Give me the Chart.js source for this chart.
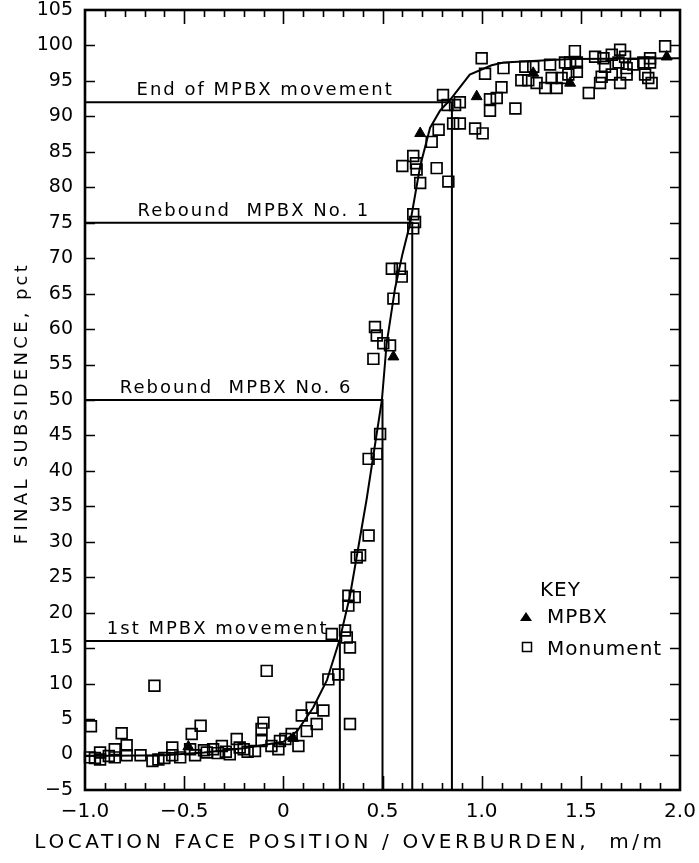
<!DOCTYPE html>
<html>
<head>
<meta charset="utf-8">
<title>Final subsidence vs face position</title>
<script src="https://cdn.jsdelivr.net/npm/chart.js@4.4.1/dist/chart.umd.min.js"></script>
<style>
  html, body { margin: 0; padding: 0; background: #fff; }
  #wrap { width: 699px; height: 863px; }
</style>
</head>
<body>
<div id="wrap"><canvas id="chart" width="699" height="863"></canvas></div>
<script>
// -----------------------------------------------------------------------------
// Data (x = face position / overburden, y = pct)
// -----------------------------------------------------------------------------

// Fitted curve through the data
const curvePts = [
  [-1.0, -0.2], [-0.6, -0.1], [-0.4, 0.3], [-0.2, 0.9], [0.0, 1.8], [0.07, 3.3],
  [0.15, 6.6], [0.22, 10.5], [0.285, 16.3], [0.336, 22.4], [0.42, 36], [0.497, 50],
  [0.521, 58], [0.563, 65.7], [0.6, 70.5], [0.64, 75], [0.69, 83], [0.74, 88.4],
  [0.79, 90.8], [0.84, 92.3], [0.94, 95.9], [1.05, 97.2], [1.11, 97.6], [1.45, 98.1], [2.0, 98.2]
];

// Monument survey points (open squares)
const monumentPts = [
  [-0.97, 4.0], [-0.975, -0.4], [-0.95, -0.5], [-0.924, 0.3], [-0.924, -0.7], [-0.88, -0.2],
  [-0.85, 0.75], [-0.85, -0.4], [-0.815, 3.0], [-0.79, 1.3], [-0.79, -0.1], [-0.72, -0.1],
  [-0.66, -0.9], [-0.65, 9.7], [-0.63, -0.7], [-0.6, -0.5], [-0.56, 1.0], [-0.56, -0.1],
  [-0.52, -0.4], [-0.47, 0.75], [-0.462, 2.9], [-0.445, -0.1], [-0.417, 4.05], [-0.40, 0.6],
  [-0.386, 0.3], [-0.354, 0.75], [-0.33, 0.2], [-0.31, 1.2], [-0.29, 0.4], [-0.27, 0.04],
  [-0.235, 2.2], [-0.22, 1.0], [-0.2, 0.75], [-0.18, 0.4], [-0.143, 0.5], [-0.11, 1.9],
  [-0.11, 3.6], [-0.1, 4.5], [-0.084, 11.8], [-0.06, 1.2], [-0.025, 0.75], [-0.017, 1.9],
  [0.01, 2.2], [0.042, 2.9], [0.076, 1.2], [0.093, 5.5], [0.118, 3.3], [0.143, 6.6],
  [0.168, 4.3], [0.202, 6.2], [0.227, 10.6], [0.244, 17.0], [0.277, 11.3], [0.311, 17.5],
  [0.32, 16.5], [0.336, 15.1], [0.336, 4.3], [0.328, 22.4], [0.36, 22.2], [0.328, 21],
  [0.37, 27.8], [0.387, 28.1], [0.43, 30.9], [0.43, 41.7], [0.471, 42.4], [0.488, 45.2],
  [0.454, 55.8], [0.462, 60.3], [0.471, 59.1], [0.504, 58.0], [0.538, 57.7], [0.555, 64.3],
  [0.547, 68.5], [0.588, 68.5], [0.597, 67.4], [0.655, 76.2], [0.664, 75.1], [0.655, 74.2],
  [0.600, 83.0], [0.655, 84.4], [0.669, 83.4], [0.672, 82.5], [0.69, 80.6], [0.748, 86.4],
  [0.783, 88.1], [0.773, 82.7], [0.832, 80.8], [0.805, 93.0], [0.828, 91.6], [0.866, 91.6],
  [0.89, 92.0], [0.856, 89.0], [0.89, 89.0], [0.967, 88.3], [1.005, 87.6], [1.0, 98.2],
  [1.017, 96.0], [1.11, 96.8], [1.042, 92.4], [1.076, 92.6], [1.1, 94.1], [1.042, 90.8],
  [1.17, 91.1], [1.22, 97.0], [1.26, 97.0], [1.2, 95.1], [1.235, 95.1], [1.277, 94.7],
  [1.32, 94.0], [1.345, 97.3], [1.353, 95.4], [1.378, 94.0], [1.403, 95.4], [1.42, 97.6],
  [1.446, 97.6], [1.437, 95.9], [1.47, 99.2], [1.48, 97.6], [1.48, 96.3], [1.54, 93.3],
  [1.572, 98.4], [1.614, 98.2], [1.622, 97.0], [1.605, 95.6], [1.597, 94.7], [1.656, 98.7],
  [1.656, 95.9], [1.698, 99.4], [1.69, 97.6], [1.698, 94.7], [1.723, 98.4], [1.731, 96.8],
  [1.731, 95.9], [1.765, 97.3], [1.815, 97.6], [1.849, 98.2], [1.849, 97.6], [1.824, 95.9],
  [1.84, 95.4], [1.857, 94.7], [1.925, 99.9]
];

// MPBX points (filled triangles)
const mpbxPts = [
  [-0.479, 1.1], [0.05, 2.3], [0.555, 56.1], [0.69, 87.6], [0.975, 92.8],
  [1.26, 96.1], [1.446, 94.7], [1.933, 98.4]
];

// Event levels: horizontal line at the level, dropped to the axis at eventX
const eventLevels = [92, 75, 50, 16];
const eventX = [0.85, 0.65, 0.5, 0.285];
const eventNames = ['End of MPBX movement', 'Rebound  MPBX No. 1', 'Rebound  MPBX No. 6', '1st MPBX movement'];

const X_MIN = -1, X_MAX = 2, Y_MIN = -5, Y_MAX = 105;

const FONT = '"DejaVu Sans", "Liberation Sans", sans-serif';
const pt = p => ({ x: p[0], y: p[1] });
const minus = s => s.replace('-', '\u2212');

// -----------------------------------------------------------------------------
// Plugins: frame with inward ticks, annotations, axis titles and the key
// -----------------------------------------------------------------------------
const framePlugin = {
  id: 'frame',
  afterDatasetsDraw(chart) {
    const { ctx, chartArea: a, scales: { x, y } } = chart;
    ctx.save();
    ctx.strokeStyle = '#000';
    ctx.lineWidth = 1.6;
    ctx.beginPath();
    // y ticks every 5 on both sides
    for (let v = Y_MIN + 5; v < Y_MAX; v += 5) {
      const py = Math.round(y.getPixelForValue(v)) + 0.5;
      ctx.moveTo(a.left, py); ctx.lineTo(a.left + 10, py);
      ctx.moveTo(a.right, py); ctx.lineTo(a.right - 10, py);
    }
    // x ticks every 0.1, longer at every 0.5
    for (let i = 1; i < 30; i++) {
      const v = X_MIN + i * 0.1;
      const px = Math.round(x.getPixelForValue(v)) + 0.5;
      const len = i % 5 === 0 ? 14 : 7;
      ctx.moveTo(px, a.bottom); ctx.lineTo(px, a.bottom - len);
      ctx.moveTo(px, a.top); ctx.lineTo(px, a.top + len);
    }
    ctx.stroke();
    ctx.lineWidth = 2.6;
    ctx.strokeRect(a.left, a.top, a.right - a.left, a.bottom - a.top);
    ctx.restore();
  },
  afterDraw(chart) {
    const { ctx, scales: { x, y } } = chart;
    const o = chart.options.plugins.frame;
    ctx.save();
    ctx.fillStyle = '#000';

    // event annotations sit just above their lines
    ctx.font = '18px ' + FONT;
    ctx.letterSpacing = '2px';
    ctx.textAlign = 'left';
    ctx.textBaseline = 'alphabetic';
    eventNames.forEach((name, i) => {
      ctx.fillText(name, x.getPixelForValue(o.labelLeft[i]), y.getPixelForValue(eventLevels[i]) - 7);
    });

    // axis titles
    ctx.font = '20px ' + FONT;
    ctx.letterSpacing = '3.6px';
    ctx.textAlign = 'center';
    ctx.fillText('LOCATION FACE POSITION / OVERBURDEN,  m/m', 350, 848);

    ctx.save();
    ctx.translate(27, 403);
    ctx.rotate(-Math.PI / 2);
    ctx.font = '18px ' + FONT;
    ctx.letterSpacing = '3.3px';
    ctx.fillText('FINAL SUBSIDENCE, pct', 0, 0);
    ctx.restore();

    // key
    ctx.letterSpacing = '1px';
    ctx.textAlign = 'left';
    ctx.font = '20px ' + FONT;
    ctx.fillText('KEY', 540, 596);
    ctx.fillText('MPBX', 547, 623);
    ctx.fillText('Monument', 547, 655);
    ctx.beginPath();
    ctx.moveTo(526, 612); ctx.lineTo(532, 621); ctx.lineTo(520, 621); ctx.closePath();
    ctx.fill();
    ctx.lineWidth = 1.5;
    ctx.strokeRect(522.5, 642.5, 9, 9);
    ctx.restore();
  }
};

// -----------------------------------------------------------------------------
// Chart
// -----------------------------------------------------------------------------
const eventLines = eventLevels.map((lvl, i) => ({
  label: eventNames[i],
  data: [{ x: X_MIN, y: lvl }, { x: eventX[i], y: lvl }, { x: eventX[i], y: Y_MIN }],
  showLine: true,
  borderColor: '#000',
  borderWidth: 2,
  pointRadius: 0,
  tension: 0
}));

new Chart(document.getElementById('chart'), {
  type: 'scatter',
  data: {
    datasets: [
      {
        label: 'MPBX',
        data: mpbxPts.map(pt),
        pointStyle: 'triangle',
        pointRadius: 6.3,
        backgroundColor: '#000',
        borderColor: '#000',
        borderWidth: 1,
        clip: 8
      },
      {
        label: 'Monument',
        data: monumentPts.map(pt),
        pointStyle: 'rect',
        pointRadius: 7.6,
        backgroundColor: 'rgba(0,0,0,0)',
        borderColor: '#000',
        borderWidth: 1.7,
        clip: 8
      },
      {
        label: 'Curve',
        data: curvePts.map(pt),
        showLine: true,
        borderColor: '#000',
        borderWidth: 2,
        pointRadius: 0,
        tension: 0
      },
      ...eventLines
    ]
  },
  options: {
    responsive: false,
    devicePixelRatio: 1,
    animation: false,
    events: [],
    layout: { padding: { top: 10, right: 19, left: 0, bottom: 0 } },
    plugins: {
      legend: { display: false },
      tooltip: { enabled: false },
      frame: { labelLeft: [-0.74, -0.735, -0.825, -0.89] }
    },
    scales: {
      x: {
        type: 'linear',
        min: X_MIN,
        max: X_MAX,
        grid: { display: false, drawTicks: false },
        border: { display: false },
        afterFit: s => { s.height = 73; s.paddingLeft = 0; s.paddingRight = 0; },
        ticks: {
          stepSize: 0.5,
          padding: 10,
          color: '#000',
          font: { family: FONT, size: 20 },
          maxRotation: 0,
          callback: v => Math.abs(v) < 1e-9 ? '0' : minus(v.toFixed(1))
        }
      },
      y: {
        type: 'linear',
        min: Y_MIN,
        max: Y_MAX,
        grid: { display: false, drawTicks: false },
        border: { display: false },
        afterFit: s => { s.width = 85; s.paddingTop = 0; s.paddingBottom = 0; },
        ticks: {
          stepSize: 5,
          padding: 12,
          color: '#000',
          font: { family: FONT, size: 19 },
          callback: v => minus(String(v))
        }
      }
    }
  },
  plugins: [framePlugin]
});
</script>
</body>
</html>
